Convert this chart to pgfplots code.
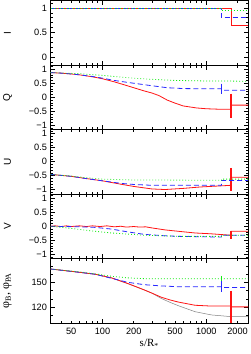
\documentclass[border=0pt]{standalone}
\usepackage{fontspec}
\setmainfont{Liberation Sans}
\newfontfamily\lserif{Liberation Serif}
\usepackage{pgfplots}
\pgfplotsset{compat=1.18}
\definecolor{cred}{RGB}{255,20,20}
\definecolor{cblue}{RGB}{40,40,255}
\definecolor{cgreen}{RGB}{20,235,20}
\pgfplotsset{
  every axis/.append style={
    scale only axis, width=197.5pt, height=64.5pt,
    anchor=north west,
    xtick={100,1000}, xticklabels={},
    minor xtick={40,50,60,70,80,90,200,300,400,500,600,700,800,900,2000},
    major tick length=4.5pt, minor tick length=2.5pt,
    every tick/.style={black, line width=0.6pt},
    axis line style={black, line width=0.8pt},
    tick label style={font=\fontsize{9.2}{10}\selectfont},
    label style={font=\lserif\fontsize{11}{12}\selectfont},
    every axis y label/.style={at={(rel axis cs:0,0.5)}, xshift=-43pt, rotate=90, anchor=center},
  },
  rl/.style={color=cred, line width=0.8pt},
  bl/.style={color=cblue, line width=0.8pt, dash pattern=on 5pt off 3pt},
  gl/.style={color=cgreen, line width=0.8pt, dash pattern=on 0.9pt off 2.1pt},
  ebr/.style={color=cred, line width=1.2pt},
  ebb/.style={color=cblue, line width=1.2pt},
  ebg/.style={color=cgreen, line width=1.2pt},
}
\begin{document}
\begin{tikzpicture}
\path[use as bounding box] (0,0) rectangle (251pt,-354pt);
% ---------- I ----------
\begin{axis}[xmode=log, xmin=31.6, xmax=2520, at={(50.5pt,-0.5pt)},
  ymin=-0.156, ymax=1.15, ytick={0,0.5,1}, yticklabels={0,0.5,1},
  minor ytick={-0.1,0.1,0.2,0.3,0.4,0.6,0.7,0.8,0.9,1.1},
  ylabel={I}]
\addplot[rl] coordinates {(31.6,1)(1730,1)(1730,0.65)(2520,0.65)};
\addplot[bl] coordinates {(31.6,1)(1400,1)(1400,0.80)(2520,0.80)};
\addplot[gl] coordinates {(31.6,1)(1400,1)(1400,0.94)(2520,0.94)};
\end{axis}
% ---------- Q ----------
\begin{axis}[xmode=log, xmin=31.6, xmax=2520, at={(50.5pt,-65pt)},
  ymin=-1.15, ymax=1.15,
  ytick={-1,-0.5,0,0.5,1}, yticklabels={−1,−0.5,0,0.5,1},
  minor ytick={-1.1,-0.9,-0.8,-0.7,-0.6,-0.4,-0.3,-0.2,-0.1,0.1,0.2,0.3,0.4,0.6,0.7,0.8,0.9,1.1},
  ylabel={Q}]
\addplot[rl] coordinates {(31.6,0.88)(40,0.86)(50,0.83)(60,0.80)(80,0.73)(100,0.66)(130,0.55)(160,0.45)(200,0.34)(250,0.23)(300,0.15)(350,0.06)(420,-0.10)(500,-0.21)(600,-0.31)(800,-0.38)(1000,-0.41)(1400,-0.43)(1730,-0.43)(1730,-0.28)(2520,-0.28)};
\addplot[ebr] coordinates {(1730,0.13)(1730,-0.73)};
\addplot[bl] coordinates {(31.6,0.88)(40,0.86)(50,0.83)(60,0.80)(80,0.74)(100,0.68)(130,0.60)(160,0.55)(200,0.50)(300,0.41)(420,0.34)(600,0.31)(1000,0.30)(1400,0.30)(1400,0.25)(2520,0.25)};
\addplot[ebb] coordinates {(1400,0.49)(1400,0.10)};
\addplot[gl] coordinates {(31.6,0.88)(60,0.84)(100,0.78)(150,0.72)(200,0.68)(300,0.64)(500,0.60)(1000,0.58)(1400,0.58)(2520,0.57)};
\end{axis}
% ---------- U ----------
\begin{axis}[xmode=log, xmin=31.6, xmax=2520, at={(50.5pt,-129.5pt)},
  ymin=-1.15, ymax=1.15,
  ytick={-1,-0.5,0,0.5,1}, yticklabels={−1,−0.5,0,0.5,1},
  minor ytick={-1.1,-0.9,-0.8,-0.7,-0.6,-0.4,-0.3,-0.2,-0.1,0.1,0.2,0.3,0.4,0.6,0.7,0.8,0.9,1.1},
  ylabel={U}]
\addplot[rl] coordinates {(31.6,-0.45)(50,-0.52)(70,-0.60)(100,-0.68)(150,-0.80)(200,-0.88)(300,-0.97)(400,-0.99)(600,-0.95)(870,-0.90)(1730,-0.84)(1730,-0.55)(2520,-0.55)};
\addplot[ebr] coordinates {(1730,-0.22)(1730,-1.05)};
\addplot[bl] coordinates {(31.6,-0.45)(50,-0.52)(70,-0.60)(100,-0.68)(150,-0.77)(200,-0.81)(300,-0.84)(1400,-0.84)(1400,-0.67)(2520,-0.67)};
\addplot[gl] coordinates {(31.6,-0.45)(50,-0.51)(70,-0.57)(100,-0.62)(200,-0.65)(1400,-0.66)(1400,-0.62)(2520,-0.62)};
\end{axis}
% ---------- V ----------
\begin{axis}[xmode=log, xmin=31.6, xmax=2520, at={(50.5pt,-194pt)},
  ymin=-1.15, ymax=1.15,
  ytick={-1,-0.5,0,0.5,1}, yticklabels={−1,−0.5,0,0.5,1},
  minor ytick={-1.1,-0.9,-0.8,-0.7,-0.6,-0.4,-0.3,-0.2,-0.1,0.1,0.2,0.3,0.4,0.6,0.7,0.8,0.9,1.1},
  ylabel={V}]
\addplot[rl] coordinates {(31.6,0)(35,0.015)(40,-0.01)(45,0.015)(50,-0.01)(60,0.015)(70,-0.01)(80,0.015)(95,-0.01)(110,0.015)(130,-0.02)(150,0.0)(170,-0.03)(200,-0.01)(230,-0.03)(260,-0.02)(300,-0.06)(400,-0.13)(540,-0.18)(780,-0.24)(1120,-0.27)(1730,-0.32)(1730,-0.18)(2520,-0.18)};
\addplot[ebr] coordinates {(1730,-0.18)(1730,-0.44)};
\addplot[bl] coordinates {(31.6,0)(59,-0.02)(85,-0.04)(122,-0.10)(175,-0.20)(253,-0.29)(400,-0.34)(537,-0.36)(1121,-0.38)(1400,-0.38)(1400,-0.32)(2520,-0.32)};
\addplot[gl] coordinates {(31.6,0)(41,-0.04)(59,-0.11)(85,-0.18)(122,-0.24)(253,-0.32)(537,-0.36)(1400,-0.36)(1400,-0.32)(2520,-0.32)};
\end{axis}
% ---------- phi ----------
\begin{axis}[xmode=log, xmin=31.6, xmax=2520, at={(50.5pt,-258.5pt)},
  ymin=100, ymax=180, ytick={120,150}, yticklabels={120,150},
  minor ytick={110,130,140,160,170},
  ylabel={φ\textsubscript{B}, φ\textsubscript{PA}},
  ylabel style={font=\lserif\fontsize{12}{13}\selectfont},
  xticklabels={100,1000},
  extra x ticks={50,200,500,2000}, extra x tick labels={50,200,500,2000},
  extra x tick style={major tick length=0pt},
  xticklabel style={yshift=-1.5pt},
  xlabel={s/R\textsubscript{*}},
  xlabel style={at={(rel axis cs:0.5,0)}, anchor=center, yshift=-21pt}]
\addplot[color=gray, line width=0.5pt] coordinates {(31.6,167)(59,163)(85,160.5)(122,156)(175,149)(253,141)(300,137)(368,130.5)(450,125.5)(537,121.5)(780,114)(1121,110)(1700,108)(2520,108)};
\addplot[rl] coordinates {(31.6,167)(59,163)(85,160.5)(122,156)(175,149)(253,141)(300,137)(368,132)(450,128.5)(537,126)(780,122)(1121,121)(1730,121)(1730,120)(2520,120)};
\addplot[ebr] coordinates {(1730,140)(1730,100)};
\addplot[bl] coordinates {(31.6,167)(59,163)(85,160.5)(122,155.5)(175,150.5)(253,147.5)(368,146)(537,145)(1400,145)(1400,144)(2520,144)};
\addplot[ebb] coordinates {(1400,152)(1400,139)};
\addplot[gl] coordinates {(31.6,167)(59,163.5)(85,161)(122,158)(175,156)(253,155)(1400,155)(2520,155)};
\addplot[ebg] coordinates {(1400,158.5)(1400,151.5)};
\end{axis}
\end{tikzpicture}
\end{document}
